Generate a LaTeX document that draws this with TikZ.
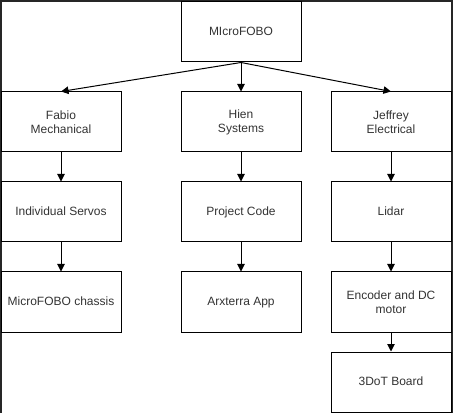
\documentclass[tikz,border=0pt]{standalone}
\usepackage{fontspec}
\setmainfont{Liberation Sans}
\usetikzlibrary{arrows.meta}
\definecolor{framegray}{HTML}{262626}
\definecolor{textgray}{HTML}{333333}
\tikzset{
  box/.style={draw, line width=1pt, minimum width=120pt, minimum height=60pt,
    align=center, inner sep=2pt, text=textgray,
    font=\fontsize{12}{14}\selectfont},
  oneline/.style={box, text height=8.6pt, text depth=2.4pt},
  link/.style={line width=1pt, -{Triangle[width=7.5pt,length=7.5pt]}}
}
\begin{document}
\begin{tikzpicture}[x=1pt,y=1pt]
\useasboundingbox (0,0) rectangle (453,413);
% window frame
\fill[framegray] (0,411) rectangle (453,413);
\fill[framegray] (0,0) rectangle (1.5,413);
\fill[framegray] (451,0) rectangle (453,413);

\node[oneline] (top) at (241,381) {MIcroFOBO};

\node[box] (fabio) at (61,291) {Fabio\\Mechanical};
\node[box] (hien) at (241,291) {Hien\\Systems};
\node[box] (jeff) at (391,291) {Jeffrey\\Electrical};

\node[oneline] (servo) at (61,201) {Individual Servos};
\node[oneline] (code) at (241,201) {Project Code};
\node[oneline] (lidar) at (391,201) {Lidar};

\node[oneline] (chassis) at (61,111) {MicroFOBO chassis};
\node[oneline] (app) at (241,111) {Arxterra App};
\node[box] (motor) at (391,111) {Encoder and DC\\motor};

\node[oneline] (board) at (391,31) {3DoT Board};

\draw[link] (top.south) -- (fabio.north);
\draw[link] (top.south) -- (hien.north);
\draw[link] (top.south) -- (jeff.north);

\draw[link] (fabio) -- (servo);
\draw[link] (servo) -- (chassis);
\draw[link] (hien) -- (code);
\draw[link] (code) -- (app);
\draw[link] (jeff) -- (lidar);
\draw[link] (lidar) -- (motor);
\draw[link] (motor) -- (board);
\end{tikzpicture}
\end{document}
